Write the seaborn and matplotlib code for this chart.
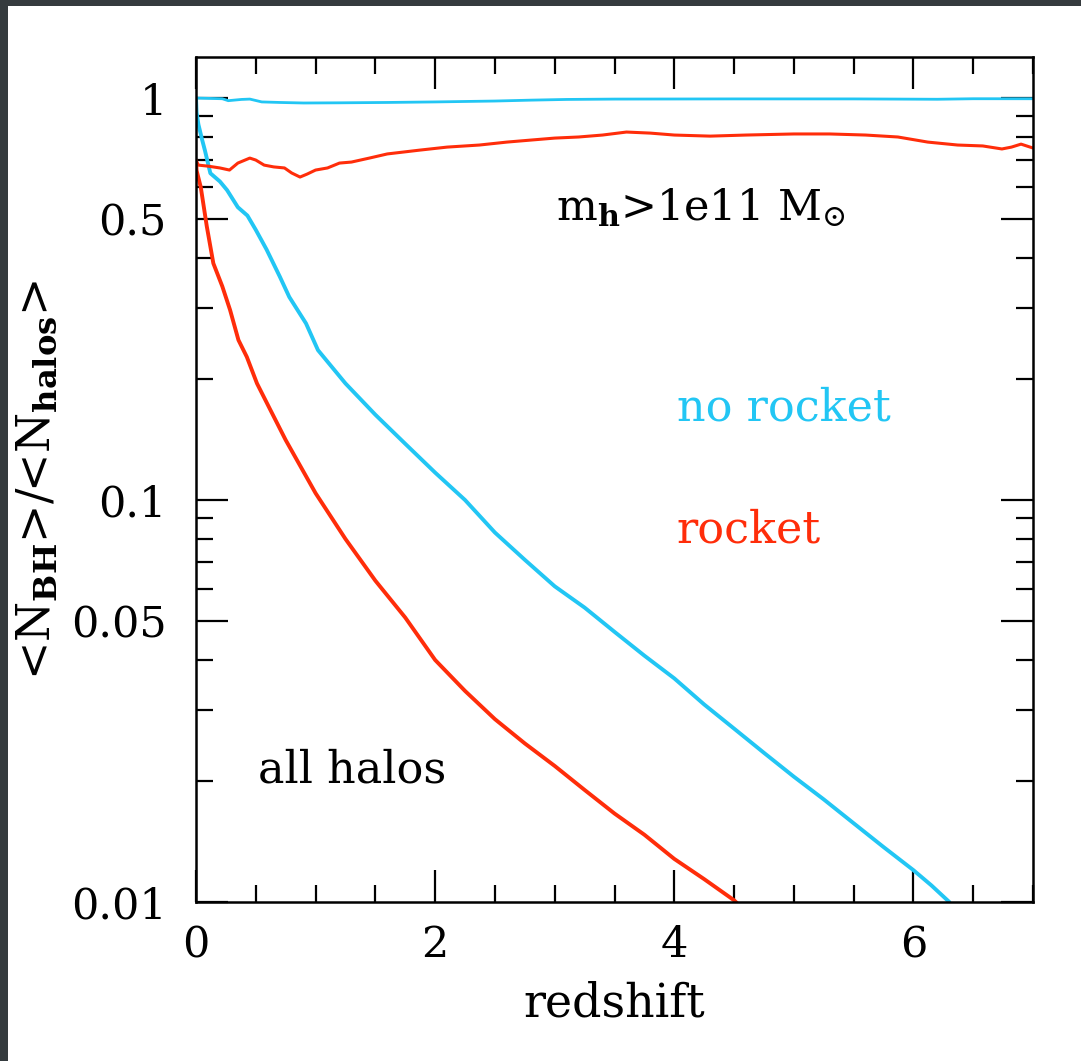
import numpy as np
import pandas as pd
import matplotlib
matplotlib.use("Agg")
import matplotlib.pyplot as plt
from matplotlib.patches import Rectangle
from matplotlib.ticker import FixedLocator, FixedFormatter, NullFormatter
import seaborn as sns

# ---------------- data ----------------
# no rocket, all halos (cyan, lower)
x_norocket_all = [0, 0.005, 0.02, 0.05, 0.075, 0.12, 0.2, 0.26, 0.35, 0.43, 0.5, 0.59,
                  0.7, 0.78, 0.92, 1.02, 1.25, 1.5, 1.75, 2.0, 2.25, 2.5, 2.75, 3.0,
                  3.25, 3.5, 3.75, 4.0, 4.25, 4.5, 4.75, 5.0, 5.25, 5.5, 5.75, 6.0, 6.15, 6.3]
y_norocket_all = [1.0, 0.92, 0.86, 0.79, 0.74, 0.65, 0.62, 0.59, 0.535, 0.51, 0.47, 0.42,
                  0.36, 0.32, 0.275, 0.236, 0.195, 0.163, 0.138, 0.117, 0.1, 0.083, 0.071,
                  0.061, 0.054, 0.047, 0.041, 0.036, 0.031, 0.027, 0.0235, 0.0205, 0.018,
                  0.0157, 0.0137, 0.012, 0.011, 0.010]

# rocket, all halos (red, lower)
x_rocket_all = [0, 0.005, 0.04, 0.09, 0.145, 0.22, 0.285, 0.355, 0.425, 0.51, 0.62, 0.75,
                1.0, 1.25, 1.5, 1.75, 2.0, 2.25, 2.5, 2.75, 3.0, 3.25, 3.5, 3.75, 4.0,
                4.25, 4.5, 4.53]
y_rocket_all = [0.70, 0.66, 0.60, 0.48, 0.388, 0.34, 0.297, 0.25, 0.227, 0.195, 0.168, 0.141,
                0.104, 0.08, 0.063, 0.051, 0.040, 0.0335, 0.0285, 0.0248, 0.0218, 0.019,
                0.0166, 0.0147, 0.0128, 0.0114, 0.0101, 0.0099]

# no rocket, m_h > 1e11 (cyan, upper)
x_norocket_m = [0, 0.22, 0.27, 0.38, 0.45, 0.55, 0.7, 0.9, 1.2, 1.6, 2.0, 2.5, 2.8, 3.1,
                3.5, 4.5, 5.5, 6.2, 6.5, 7.0]
y_norocket_m = [1.0, 0.996, 0.985, 0.992, 0.994, 0.978, 0.975, 0.972, 0.973, 0.975, 0.978,
                0.983, 0.988, 0.992, 0.994, 0.995, 0.995, 0.993, 0.996, 0.996]

# rocket, m_h > 1e11 (red, upper)
x_rocket_m = [0, 0.02, 0.1, 0.2, 0.28, 0.35, 0.45, 0.5, 0.57, 0.65, 0.74, 0.8, 0.87, 0.93,
              1.0, 1.1, 1.2, 1.3, 1.45, 1.6, 1.87, 2.1, 2.37, 2.6, 2.8, 3.0, 3.2, 3.4,
              3.6, 3.8, 4.0, 4.3, 4.6, 5.0, 5.3, 5.6, 5.87, 6.12, 6.37, 6.58, 6.74,
              6.82, 6.9, 7.0]
y_rocket_m = [0.701, 0.681, 0.677, 0.670, 0.662, 0.689, 0.709, 0.701, 0.681, 0.674, 0.670,
              0.651, 0.636, 0.647, 0.662, 0.670, 0.689, 0.693, 0.709, 0.726, 0.742, 0.755,
              0.764, 0.777, 0.786, 0.795, 0.800, 0.809, 0.823, 0.818, 0.809, 0.804, 0.809,
              0.814, 0.814, 0.809, 0.800, 0.777, 0.764, 0.760, 0.747, 0.755, 0.768, 0.751]

x_major_ticks = [0, 2, 4, 6]
x_tick_labels = ["0", "2", "4", "6"]
y_major_ticks = [0.01, 0.05, 0.1, 0.5, 1.0]
y_tick_labels = ["0.01", "0.05", "0.1", "0.5", "1"]

CYAN = "#22c6f4"
RED = "#ff2d0a"

# ---------------- figure ----------------
sns.set_style("ticks")
plt.rcParams["font.family"] = ["DejaVu Serif"]
plt.rcParams["mathtext.fontset"] = "dejavuserif"

W, H = 1081, 1061
fig = plt.figure(figsize=(W / 100, H / 100), dpi=100, facecolor="#353b3e")
fig.patches.append(Rectangle((8 / W, 0), 1 - 8 / W, 1 - 6 / H, transform=fig.transFigure,
                             facecolor="white", edgecolor="none", zorder=-5))

ax = fig.add_axes([196 / W, 1 - 902 / H, (1033 - 196) / W, (902 - 57) / H])
ax.set_facecolor("white")

series = [
    (x_norocket_m, y_norocket_m, CYAN, 2.0),
    (x_norocket_all, y_norocket_all, CYAN, 2.8),
    (x_rocket_m, y_rocket_m, RED, 2.2),
    (x_rocket_all, y_rocket_all, RED, 2.8),
]
for xs, ys, col, lw in series:
    df = pd.DataFrame({"z": xs, "r": ys})
    sns.lineplot(data=df, x="z", y="r", ax=ax, color=col, lw=lw,
                 estimator=None, sort=False)

ax.set_yscale("log")
ax.set_xlim(0, 7)
ax.set_ylim(0.01, 1.265)

ax.xaxis.set_major_locator(FixedLocator(x_major_ticks))
ax.xaxis.set_major_formatter(FixedFormatter(x_tick_labels))
ax.xaxis.set_minor_locator(FixedLocator([v for v in np.arange(0, 7.01, 0.5) if v % 2 != 0]))
ax.yaxis.set_major_locator(FixedLocator(y_major_ticks))
ax.yaxis.set_major_formatter(FixedFormatter(y_tick_labels))
minors = [m * d for d in (0.01, 0.1) for m in range(2, 10) if m != 5]
ax.yaxis.set_minor_locator(FixedLocator(minors))
ax.yaxis.set_minor_formatter(NullFormatter())

for s in ax.spines.values():
    s.set_visible(True)
    s.set_linewidth(1.8)
    s.set_color("black")

ax.tick_params(which="both", direction="in", top=True, right=True, colors="black")
ax.tick_params(which="major", length=23, width=1.6, labelsize=31, pad=16)
ax.tick_params(axis="y", which="major", pad=21)
ax.tick_params(which="minor", length=12, width=1.6)

ax.set_xlabel("redshift", fontsize=33, labelpad=11, color="black")
ax.set_ylabel(r"<N$_{\mathbf{BH}}$>/<N$_{\mathbf{halos}}$>", fontsize=33, labelpad=8,
              color="black")

ax.text(3.01, 0.497, r"m$_{\mathbf{h}}$>1e11 M$_{\odot}$", fontsize=31, color="black",
        va="baseline", ha="left")
ax.text(4.02, 0.158, "no rocket", fontsize=32, color=CYAN, va="baseline", ha="left")
ax.text(4.02, 0.0786, "rocket", fontsize=32, color=RED, va="baseline", ha="left")
ax.text(0.52, 0.0198, "all halos", fontsize=32, color="black", va="baseline", ha="left")

fig.savefig("out.png", dpi=100, facecolor=fig.get_facecolor())
